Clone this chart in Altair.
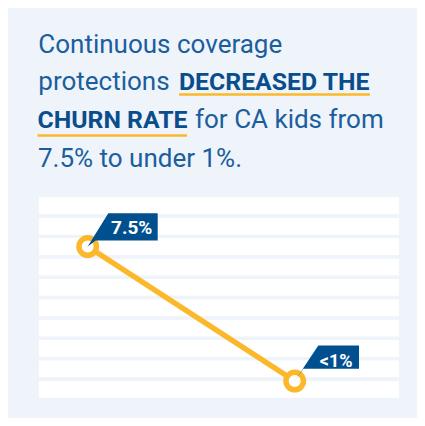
import altair as alt
import pandas as pd

# ---- data ----
periods = ["Before", "After"]
step = [0, 1]
churn = [7.5, 0.9]
labels = ["7.5%", "<1%"]
stripe_rows = list(range(10))
title_segments = [
    "Continuous coverage",
    "protections",
    "DECREASED THE",
    "CHURN RATE",
    "for CA kids from",
    "7.5% to under 1%.",
]

PANEL = "#eef4fa"
YELLOW = "#fbb82b"
NAVY = "#00508f"
BLUE = "#1b5e9e"
BOLD_BLUE = "#0a4d8c"
FONT = "Roboto"

df = pd.DataFrame({"period": periods, "step": step, "churn": churn, "label": labels})
stripes = pd.DataFrame({"lo": stripe_rows, "hi": [r + 1 for r in stripe_rows]})

xs = alt.Scale(domain=[0, 1], range=[79.7, 286.7])
ys = alt.Scale(domain=[0, 10], range=[391.4, 187.6])
X = alt.X("step:Q", scale=xs, axis=None)
Y = alt.Y("churn:Q", scale=ys, axis=None)

flag1 = "M0,0L0.2575,-0.4175L0.875,-0.4175L0.875,-0.075L0.1,-0.075Z"
flag2 = "M0,0L0.295,-0.446L0.804,-0.446L0.804,-0.155L0.1075,-0.155Z"

stripe_layer = alt.Chart(stripes).mark_rect(
    fill="white", stroke=PANEL, strokeWidth=3.4
).encode(
    x=alt.value(29.3), x2=alt.value(392.7),
    y=alt.Y("lo:Q", scale=ys, axis=None), y2="hi:Q",
)

line_layer = alt.Chart(df).mark_line(color=YELLOW, strokeWidth=5.5).encode(x=X, y=Y, order="step:Q")

point_layer = alt.Chart(df).mark_point(
    shape="circle", filled=True, fill="white", stroke=YELLOW, strokeWidth=5.5,
    size=306, opacity=1,
).encode(x=X, y=Y)

flag_layer = alt.Chart(df).mark_point(
    filled=True, fill=NAVY, strokeWidth=0, size=25600, opacity=1
).encode(
    x=X, y=Y,
    shape=alt.Shape("label:N", scale=alt.Scale(domain=labels, range=[flag1, flag2]), legend=None),
)

lab1 = alt.Chart(df).transform_filter(alt.datum.label == labels[0]).mark_text(
    font=FONT, fontWeight="bold", fontSize=19, color="white", align="center",
    baseline="alphabetic", dx=44, dy=-12.7,
).encode(x=X, y=Y, text="label:N")

lab2 = alt.Chart(df).transform_filter(alt.datum.label == labels[1]).mark_text(
    font=FONT, fontWeight="bold", fontSize=18, color="white", align="center",
    baseline="alphabetic", dx=41.5, dy=-14,
).encode(x=X, y=Y, text="label:N")

one = pd.DataFrame({"k": [0]})


def seg(i, xpos, ypos, bold=False):
    return alt.Chart(one).mark_text(
        text=title_segments[i], font=FONT, fontSize=24.8 if bold else 26,
        fontWeight="bold" if bold else "normal", color=BOLD_BLUE if bold else BLUE,
        align="left", baseline="alphabetic",
    ).encode(x=alt.value(xpos), y=alt.value(ypos))


def underline(x1, x2, ypos):
    return alt.Chart(one).mark_rule(color=YELLOW, strokeWidth=2.5).encode(
        x=alt.value(x1), x2=alt.value(x2), y=alt.value(ypos)
    )


title_layers = [
    seg(0, 30.3, 44.5),
    seg(1, 30.3, 82),
    seg(2, 171, 82, bold=True),
    seg(3, 29.5, 120, bold=True),
    seg(4, 187, 120),
    seg(5, 30, 159),
    underline(171, 362, 86.5),
    underline(29.5, 179, 127.5),
]

chart = alt.layer(
    stripe_layer, line_layer, point_layer, flag_layer, lab1, lab2, *title_layers
).properties(
    width=409, height=410, autosize=alt.AutoSizeParams(type="none"), padding=0,
    background=PANEL,
).configure_view(stroke=None)

chart.save("out.html", embed_options={"renderer": "svg", "actions": False})
